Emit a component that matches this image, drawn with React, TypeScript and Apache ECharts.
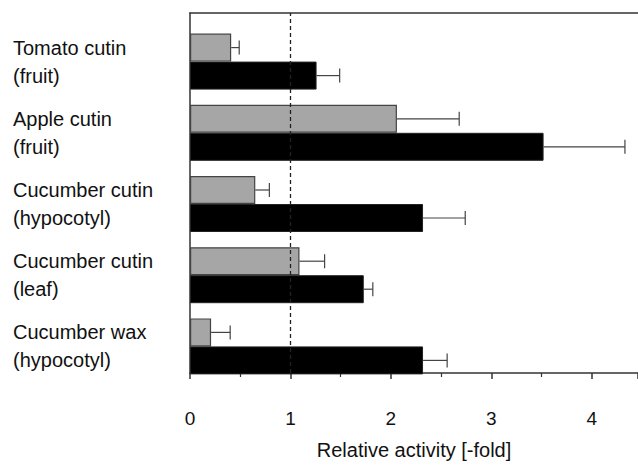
import React, { useEffect, useRef } from "react";
import * as echarts from "echarts";

const categories = [
  "Tomato cutin\n(fruit)",
  "Apple cutin\n(fruit)",
  "Cucumber cutin\n(hypocotyl)",
  "Cucumber cutin\n(leaf)",
  "Cucumber wax\n(hypocotyl)",
];
const grayValues = [0.41, 2.06, 0.65, 1.09, 0.21];
const grayErrors = [0.08, 0.62, 0.14, 0.25, 0.19];
const blackValues = [1.26, 3.52, 2.32, 1.73, 2.32];
const blackErrors = [0.23, 0.81, 0.42, 0.09, 0.24];
const xTicks = [0, 1, 2, 3, 4];
const referenceLine = 1;
const xMax = 4.46;

const FONT = "'Liberation Sans', Arial, Helvetica, sans-serif";

function errorSeries(values: number[], errors: number[], offset: number) {
  return {
    type: "custom",
    xAxisIndex: 2,
    yAxisIndex: 1,
    silent: true,
    z: 5,
    data: values.map((v, i) => [i, v, v + errors[i]]),
    renderItem: (params: any, api: any) => {
      const idx = api.value(0);
      const p0 = api.coord([api.value(1), idx]);
      const p1 = api.coord([api.value(2), idx]);
      const y = p0[1] + offset;
      const cap = 7;
      const style = { stroke: "#444", lineWidth: 1.2, fill: "none" };
      return {
        type: "group",
        children: [
          { type: "line", shape: { x1: p0[0], y1: y, x2: p1[0], y2: y }, style },
          { type: "line", shape: { x1: p1[0], y1: y - cap, x2: p1[0], y2: y + cap }, style },
        ],
      };
    },
  };
}

export default function App() {
  const ref = useRef<HTMLDivElement>(null);
  useEffect(() => {
    if (!ref.current) return;
    const chart = echarts.init(ref.current, undefined, { renderer: "svg" });
    const gridLeft = 190;
    const gridWidth = 450;
    chart.setOption({
      animation: false,
      textStyle: { fontFamily: FONT },
      grid: [
        { left: gridLeft, top: 13, width: gridWidth, height: 382 },
        { left: gridLeft, top: 26, width: gridWidth, height: 356 },
      ],
      xAxis: [
        {
          type: "value",
          gridIndex: 0,
          position: "bottom",
          min: 0,
          max: xMax,
          interval: 1,
          axisLine: { show: true, lineStyle: { color: "#333", width: 1.5 } },
          axisTick: { show: true, length: 6, lineStyle: { color: "#333", width: 1.5 } },
          minorTick: { show: true, splitNumber: 2, length: 4, lineStyle: { color: "#333", width: 1.2 } },
          splitLine: { show: false },
          axisLabel: {
            color: "#111",
            fontSize: 19,
            margin: 36,
            fontFamily: FONT,
            formatter: (v: number) => (xTicks.includes(v) ? String(v) : ""),
            showMaxLabel: false,
          },
          name: "Relative activity [-fold]",
          nameLocation: "middle",
          nameGap: 67,
          nameTextStyle: { color: "#111", fontSize: 20, fontFamily: FONT },
        },
        {
          type: "value",
          gridIndex: 0,
          position: "top",
          min: 0,
          max: xMax,
          axisLine: { show: true, lineStyle: { color: "#333", width: 1.5 } },
          axisTick: { show: false },
          axisLabel: { show: false },
          splitLine: { show: false },
        },
        {
          type: "value",
          gridIndex: 1,
          position: "bottom",
          min: 0,
          max: xMax,
          show: false,
          axisLine: { show: false },
          splitLine: { show: false },
        },
      ],
      yAxis: [
        {
          type: "value",
          gridIndex: 0,
          position: "left",
          min: 0,
          max: 1,
          axisLine: { show: true, onZero: false, lineStyle: { color: "#333", width: 1.5 } },
          axisTick: { show: false },
          axisLabel: { show: false },
          splitLine: { show: false },
        },
        {
          type: "category",
          gridIndex: 1,
          position: "left",
          data: categories,
          inverse: true,
          axisLine: { show: false },
          axisTick: { show: false },
          splitLine: { show: false },
          axisLabel: {
            align: "left",
            margin: 177,
            color: "#111",
            fontSize: 20,
            lineHeight: 28,
            fontFamily: FONT,
          },
        },
      ],
      series: [
        {
          type: "line",
          xAxisIndex: 0,
          yAxisIndex: 0,
          data: [],
          silent: true,
          markLine: {
            silent: true,
            symbol: "none",
            label: { show: false },
            lineStyle: { color: "#222", type: [4, 3], width: 1.3 },
            data: [{ xAxis: referenceLine }],
          },
        },
        {
          type: "bar",
          name: "gray",
          xAxisIndex: 2,
          yAxisIndex: 1,
          data: grayValues,
          barWidth: 28,
          barGap: "0%",
          itemStyle: { color: "#a6a6a6", borderColor: "#444", borderWidth: 1.2 },
        },
        {
          type: "bar",
          name: "black",
          xAxisIndex: 2,
          yAxisIndex: 1,
          data: blackValues,
          barWidth: 28,
          barGap: "0%",
          itemStyle: { color: "#000", borderColor: "#222", borderWidth: 1 },
        },
        errorSeries(grayValues, grayErrors, -14),
        errorSeries(blackValues, blackErrors, 14),
      ],
    });
    return () => chart.dispose();
  }, []);
  return <div ref={ref} style={{ width: 638, height: 465, position: "absolute", left: 0, top: 0 }} />;
}
